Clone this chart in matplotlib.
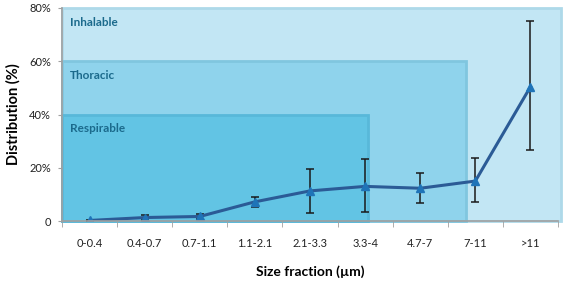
import matplotlib
matplotlib.use("Agg")
import matplotlib.pyplot as plt
from matplotlib.patches import Rectangle
import numpy as np

categories = ["0-0.4", "0.4-0.7", "0.7-1.1", "1.1-2.1", "2.1-3.3", "3.3-4", "4.7-7", "7-11", ">11"]
values = [0.2, 1.3, 1.7, 7.2, 11.3, 13.0, 12.3, 15.0, 50.4]
err_low = [0.3, 0.8, 0.8, 1.8, 8.4, 9.5, 5.4, 8.0, 23.8]
err_high = [0.3, 0.8, 0.8, 1.7, 8.3, 10.2, 5.6, 8.5, 24.7]
yticks = [0, 20, 40, 60, 80]
ytick_labels = ["0", "20%", "40%", "60%", "80%"]

# regions: name, upper limit (%), right edge (category units), fill, edge
regions = [
    ("Inhalable", 80, 8.55, "#C2E6F4", "#AED9E9"),
    ("Thoracic", 60, 6.83, "#8FD3EC", "#80C6DF"),
    ("Respirable", 40, 5.05, "#62C4E4", "#58B8D9"),
]

plt.rcParams['font.family'] = ['Lato', 'DejaVu Sans']

fig = plt.figure(figsize=(5.67, 2.89), dpi=100)
ax = fig.add_axes([62/567, 68/289, 496/567, 213/289])

x = np.arange(len(categories))
for name, top, right, fc, ec in regions:
    ax.add_patch(Rectangle((-0.5, 0), right + 0.5, top, facecolor=fc, edgecolor=ec,
                           linewidth=2.0, zorder=1, clip_on=False))
    ax.text(-0.35, top - 3.3, name, color="#1B6A8C", fontsize=8.5, fontweight="bold",
            va="top", ha="left", zorder=2)

ax.errorbar(x, values, yerr=[err_low, err_high], fmt="none", ecolor="#1a1a1a",
            elinewidth=1.1, capsize=3, capthick=1.1, zorder=3)
ax.plot(x, values, color="#2B5B96", linewidth=2.2, marker="^", markersize=5.5,
        markerfacecolor="#1F74B8", markeredgecolor="#1F74B8", zorder=4)

ax.set_xlim(-0.5, len(categories) - 0.5)
ax.set_ylim(0, 80)
ax.set_xticks(x)
ax.set_xticklabels(categories, fontsize=8, color="#222222")
ax.set_xticks(np.arange(-0.5, len(categories), 1), minor=True)
ax.tick_params(axis="x", which="major", length=0, pad=12)
ax.tick_params(axis="x", which="minor", length=4, color="#A0A0A0", direction="out")
ax.set_yticks(yticks)
ax.set_yticklabels(ytick_labels, fontsize=8, color="#222222")
ax.tick_params(axis="y", length=3, color="#A0A0A0", pad=5)

for s in ["top", "right"]:
    ax.spines[s].set_visible(False)
for s in ["left", "bottom"]:
    ax.spines[s].set_color("#A0A0A0")
    ax.spines[s].set_linewidth(1.2)
    ax.spines[s].set_zorder(5)

ax.set_xlabel("Size fraction (µm)", fontsize=10, fontweight="bold", labelpad=12)
ax.set_ylabel("Distribution (%)", fontsize=10.5, fontweight="bold", labelpad=6)

fig.savefig("out.png", dpi=100)
